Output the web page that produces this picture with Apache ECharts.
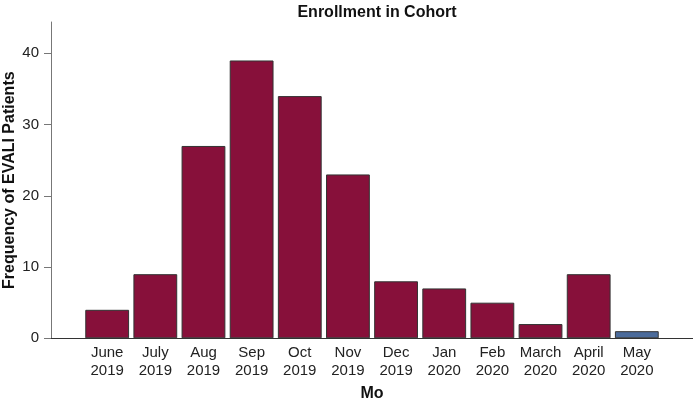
<!DOCTYPE html>
<html>
<head>
<meta charset="utf-8">
<script src="https://cdn.jsdelivr.net/npm/echarts@6/dist/echarts.min.js"></script>
<style>html,body{margin:0;padding:0;background:#fff}#c{width:693px;height:402px}</style>
</head>
<body>
<div id="c"></div>
<script>
const months = ['June\n2019','July\n2019','Aug\n2019','Sep\n2019','Oct\n2019','Nov\n2019','Dec\n2019','Jan\n2020','Feb\n2020','March\n2020','April\n2020','May\n2020'];
const counts = [4, 9, 27, 39, 34, 23, 8, 7, 5, 2, 9, 1];
const highlighted = [false,false,false,false,false,false,false,false,false,false,false,true];
const yTicks = [0, 10, 20, 30, 40];

const FONT = '"Liberation Sans", Arial, Helvetica, sans-serif';
const chart = echarts.init(document.getElementById('c'));
chart.setOption({
  animation: false,
  title: {
    text: 'Enrollment in Cohort',
    left: 372, top: 0, textAlign: 'center',
    textStyle: {fontFamily: FONT, fontSize: 16, fontWeight: 'bold', color: '#111'}
  },
  grid: [
    {left: 83.1, right: 32.1, top: 22, bottom: 63.7, outerBoundsMode: 'none', containLabel: false},
    {left: 51, right: 0, top: 22, bottom: 63.7, outerBoundsMode: 'none', containLabel: false}
  ],
  xAxis: [
    {
      type: 'category', gridIndex: 0, data: months,
      axisLine: {show: false}, axisTick: {show: false},
      axisLabel: {fontFamily: FONT, fontSize: 15, color: '#222', lineHeight: 18, margin: 6, interval: 0}
    },
    {
      type: 'value', gridIndex: 1, min: 0, max: 1,
      axisLine: {show: true, lineStyle: {color: '#333', width: 1}},
      axisTick: {show: false}, axisLabel: {show: false}, splitLine: {show: false},
      name: 'Mo', nameLocation: 'middle', nameGap: 47,
      nameTextStyle: {fontFamily: FONT, fontSize: 16, fontWeight: 'bold', color: '#111'}
    }
  ],
  yAxis: [
    {type: 'value', gridIndex: 0, min: 0, max: 44.4, show: false},
    {
      type: 'value', gridIndex: 1, min: 0, max: 44.4, interval: 10,
      axisLine: {show: true, lineStyle: {color: '#777', width: 1}},
      axisTick: {show: true, length: 7, customValues: yTicks, lineStyle: {color: '#777'}},
      axisLabel: {customValues: yTicks, fontFamily: FONT, fontSize: 15, color: '#222', margin: 12},
      splitLine: {show: false},
      name: 'Frequency of EVALI Patients', nameLocation: 'middle', nameGap: 33, nameMoveOverlap: false,
      nameTextStyle: {fontFamily: FONT, fontSize: 16, fontWeight: 'bold', color: '#111'}
    }
  ],
  series: [{
    type: 'bar', xAxisIndex: 0, yAxisIndex: 0,
    barCategoryGap: '9%',
    data: counts.map((v, i) => ({
      value: v,
      itemStyle: {color: highlighted[i] ? '#4B6B9B' : '#87103A', borderColor: '#333', borderWidth: 1}
    }))
  }]
});
</script>
</body>
</html>
